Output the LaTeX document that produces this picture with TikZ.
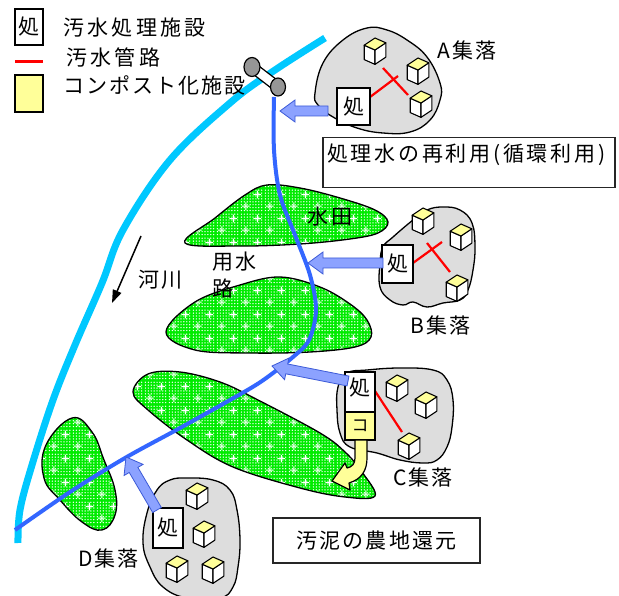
\documentclass[tikz,border=0pt]{standalone}
\usepackage{fontspec}
\setmainfont[LetterSpace=10]{Noto Sans CJK JP}
\newfontfamily\legendfont[LetterSpace=16]{Noto Sans CJK JP}
\newfontfamily\boxfont[LetterSpace=13]{Noto Sans CJK JP}
\usetikzlibrary{calc,patterns,arrows.meta,shapes.geometric}

\definecolor{rivercyan}{RGB}{0,200,255}
\definecolor{chanblue}{RGB}{51,102,255}
\definecolor{fieldgreen}{RGB}{0,235,0}
\definecolor{villagegrey}{RGB}{221,221,221}
\definecolor{arrowfill}{RGB}{140,162,255}
\definecolor{arrowedge}{RGB}{60,90,215}
\definecolor{compost}{RGB}{255,255,153}
\definecolor{gategrey}{RGB}{150,150,150}

% white dot lattice with small crosses for the paddy fields
\pgfdeclarepatternformonly{fielddots}{\pgfqpoint{0pt}{0pt}}{\pgfqpoint{24pt}{24pt}}{\pgfqpoint{24pt}{24pt}}{%
  \foreach \i in {0,...,7}{\foreach \j in {0,...,7}{%
    \pgfpathcircle{\pgfpoint{\i*3pt+1.5pt}{\j*3pt+1.5pt}}{0.75pt}\pgfusepath{fill}}}%
  \pgfsetlinewidth{1pt}%
  \pgfpathmoveto{\pgfqpoint{2pt}{6pt}}\pgfpathlineto{\pgfqpoint{10pt}{6pt}}%
  \pgfpathmoveto{\pgfqpoint{6pt}{2pt}}\pgfpathlineto{\pgfqpoint{6pt}{10pt}}%
  \pgfpathmoveto{\pgfqpoint{14pt}{18pt}}\pgfpathlineto{\pgfqpoint{22pt}{18pt}}%
  \pgfpathmoveto{\pgfqpoint{18pt}{14pt}}\pgfpathlineto{\pgfqpoint{18pt}{22pt}}%
  \pgfusepath{stroke}}

\tikzset{
  river/.style={draw=rivercyan, line width=7pt},
  channel/.style={draw=chanblue, line width=4pt},
  field/.style={preaction={fill=fieldgreen}, pattern=fielddots, pattern color=white,
                draw=black, line width=1.3pt},
  village/.style={fill=villagegrey, draw=black, line width=1.3pt},
  pipe/.style={draw=red, line width=2.2pt},
  facility/.style={draw=black, fill=white, line width=1.2pt, inner sep=0pt,
                   font=\fontsize{21}{23}\selectfont},
  compostbox/.style={draw=black, fill=compost, line width=1.2pt, inner sep=0pt},
  textbox/.style={draw=black!85, fill=white, line width=1.5pt, inner sep=0pt,
                  font=\fontsize{21}{23}\selectfont},
  lbl/.style={inner sep=0pt, anchor=west, font=\fontsize{21}{23}\selectfont},
  legendlbl/.style={inner sep=0pt, anchor=west, font=\fontsize{21}{23}\legendfont},
  blockarrow/.style={fill=arrowfill, draw=arrowedge, line width=0.8pt, line join=miter},
  gate/.style={ellipse, draw=black, fill=gategrey, line width=1.2pt, inner sep=0pt},
}

% block arrow from tail #1 to tip #2
\newcommand\blockarrow[2]{%
  \coordinate (bah) at ($(#2)!15pt!(#1)$);
  \filldraw[blockarrow] ($(#1)!5pt!90:(#2)$) -- ($(bah)!5pt!-90:(#1)$)
    -- ($(bah)!11pt!-90:(#1)$) -- (#2) -- ($(bah)!11pt!90:(#1)$)
    -- ($(bah)!5pt!90:(#1)$) -- ($(#1)!5pt!-90:(#2)$) -- cycle;}

% small house with a yellow roof
\newcommand\house[1]{%
  \begin{scope}[shift={#1}, scale=1.2, line width=1.1pt, line join=round]
    \filldraw[fill=white] (-9,-4) -- (0,0) -- (0,12) -- (-9,8) -- cycle;
    \filldraw[fill=white] (0,0) -- (9,-6) -- (9,6) -- (0,12) -- cycle;
    \filldraw[fill=compost] (-9,-4) -- (0,0) -- (9,-6) -- (0,-10) -- cycle;
  \end{scope}}

\begin{document}
\begin{tikzpicture}[x=1pt, y=-1pt]
\useasboundingbox (0,0) rectangle (619,596);
\fill[white] (0,0) rectangle (619,596);

% river
\draw[river] plot[smooth, tension=0.6] coordinates {(325,38) (272,72) (230,103) (170,160) (123,230) (102,283) (75,345) (53,400) (32,465) (20,510) (18,543)};

% paddy fields
\path[field] plot[smooth cycle, tension=0.6] coordinates {(185,243) (215,218) (245,195) (267,185) (300,188) (340,198) (375,210) (388,222) (378,233) (350,239) (300,244) (240,246)};
\path[field] plot[smooth cycle, tension=0.6] coordinates {(166,332) (195,302) (240,285) (280,277) (320,287) (350,304) (367,320) (371,337) (355,347) (310,352) (250,353) (195,350)};
\path[field] plot[smooth cycle, tension=0.6] coordinates {(133,392) (148,374) (180,372) (220,382) (258,400) (320,433) (345,452) (362,472) (375,496) (345,497) (300,488) (233,467) (187,440) (148,410)};
\path[field] plot[smooth cycle, tension=0.7] coordinates {(72,418) (92,432) (104,460) (115,490) (115,515) (102,530) (82,522) (60,500) (44,478) (46,445)};

% irrigation channel with intake gate
\coordinate (gate1c) at (252,67);
\coordinate (gate2c) at (278,87);
\filldraw[fill=white, draw=black, line width=1.2pt] ($(gate1c)!5pt!90:(gate2c)$) -- ($(gate2c)!5pt!-90:(gate1c)$)
   -- ($(gate2c)!5pt!90:(gate1c)$) -- ($(gate1c)!5pt!-90:(gate2c)$) -- cycle;
\node[gate, minimum width=16pt, minimum height=19pt] (gate1) at (gate1c) {};
\node[gate, minimum width=15pt, minimum height=18pt] (gate2) at (gate2c) {};
\draw[channel] plot[smooth, tension=0.55] coordinates {(274,97) (274,150) (280,195) (295,235) (310,275) (316,310) (309,340) (293,357) (262,381) (230,400) (180,428) (125,458) (70,492) (15,530)};

% villages
\filldraw[village] plot[smooth cycle, tension=0.7] coordinates {(315,93) (323,63) (343,40) (367,28) (387,30) (407,40) (427,57) (440,83) (440,100) (430,120) (410,132) (383,133) (357,128) (333,117) (318,105)};
\filldraw[village] plot[smooth cycle, tension=0.7] coordinates {(380,263) (383,247) (393,237) (413,220) (427,210) (443,207) (460,210) (472,223) (475,247) (473,270) (468,290) (460,300) (443,303) (427,307) (413,302) (403,305) (390,300) (380,287)};
\filldraw[village] plot[smooth cycle, tension=0.7] coordinates {(337,410) (338,387) (347,373) (367,370) (400,368) (433,370) (447,380) (453,400) (452,427) (447,447) (437,460) (423,463) (400,460) (377,453) (350,447) (340,433)};
\filldraw[village] plot[smooth cycle, tension=0.7] coordinates {(187,478) (213,480) (230,490) (237,510) (240,540) (238,567) (233,587) (220,598) (187,598) (163,587) (150,567) (143,543) (147,513) (157,490) (170,480)};

% sewer pipes
\draw[pipe] (370,97) -- (398,76);
\draw[pipe] (383,68) -- (408,95);
\draw[pipe] (413,263) -- (442,242);
\draw[pipe] (427,243) -- (450,272);
\draw[pipe] (375,391) -- (402,432);

% houses
\house{(375,50)} \house{(418,70)} \house{(421,103)}
\house{(423,220)} \house{(461,236)} \house{(457,287)}
\house{(397,387)} \house{(426,404)} \house{(409,445)}
\house{(197,495)} \house{(204,533)} \house{(177,568)} \house{(213,569)}

% treatment facilities
\node[facility, minimum width=33pt, minimum height=37pt] (boxA) at (353.5,106.5) {処};
\node[facility, minimum width=31pt, minimum height=38pt] (boxB) at (397.5,264) {処};
\node[facility, minimum width=30pt, minimum height=40pt, text depth=10pt] (boxC) at (360,392) {処};
\node[facility, minimum width=30pt, minimum height=40pt] (boxD) at (168,528) {処};

% compost facility and sludge return arrow
\node[compostbox, minimum width=30pt, minimum height=28pt, font=\fontsize{17}{19}\selectfont] (compC) at (360,426) {コ};
\filldraw[fill=compost, draw=black, line width=1.2pt, line join=round]
  (355,440) -- (355,458) .. controls (355,464) and (352,467) .. (347,468)
  -- (345,463) -- (332,481) -- (350,490) -- (349,483)
  .. controls (362,479) and (367,470) .. (367,458) -- (367,440) -- cycle;

% treated water returned to the channel
\coordinate (tailA) at (328,111);  \coordinate (tipA) at (280,111);
\coordinate (tailB) at (383,263);  \coordinate (tipB) at (308,263);
\coordinate (tailC) at (348,381);  \coordinate (tipC) at (272,366);
\coordinate (tailD) at (157,510);  \coordinate (tipD) at (126,457);
\blockarrow{tailA}{tipA}
\blockarrow{tailB}{tipB}
\blockarrow{tailC}{tipC}
\blockarrow{tailD}{tipD}

% text boxes
\node[textbox, anchor=north west, minimum width=292pt, minimum height=50pt] (reuse) at (322,137) {};
\node[inner sep=0pt, anchor=west, font=\fontsize{21}{23}\boxfont] (reuset) at (327,155) {処理水の再利用(循環利用)};
\node[textbox, minimum width=207pt, minimum height=45pt] (sludge) at (376.5,540.5) {汚泥の農地還元};

% labels
\node[lbl] (labA) at (437,51) {A集落};
\node[lbl] (labB) at (410,325) {B集落};
\node[lbl] (labC) at (393,477) {C集落};
\node[lbl] (labD) at (78,558) {D集落};
\node[lbl, anchor=center] (suiden) at (330,217) {水田};
\node[lbl] (yosui1) at (212,262) {用水};
\node[lbl] (yosui2) at (212,288) {路};
\node[lbl] (kasen) at (138,280) {河川};

% flow direction of the river
\coordinate (flowA) at (141,236);
\coordinate (flowB) at (112,303);
\draw[line width=1.5pt, -{Triangle[length=13pt, width=9pt]}] (flowA) -- (flowB);

% legend
\node[facility, minimum width=28pt, minimum height=36pt] (lgbox) at (29,27) {処};
\coordinate (lgpA) at (15,62);
\coordinate (lgpB) at (43,62);
\draw[pipe, line width=3pt] (lgpA) -- (lgpB);
\node[compostbox, minimum width=28pt, minimum height=37pt] (lgcomp) at (29,93.5) {};
\node[legendlbl] (lgt1) at (63,28) {汚水処理施設};
\node[legendlbl] (lgt2) at (66,57) {汚水管路};
\node[lbl] (lgt3) at (63,85) {コンポスト化施設};
\end{tikzpicture}
\end{document}
